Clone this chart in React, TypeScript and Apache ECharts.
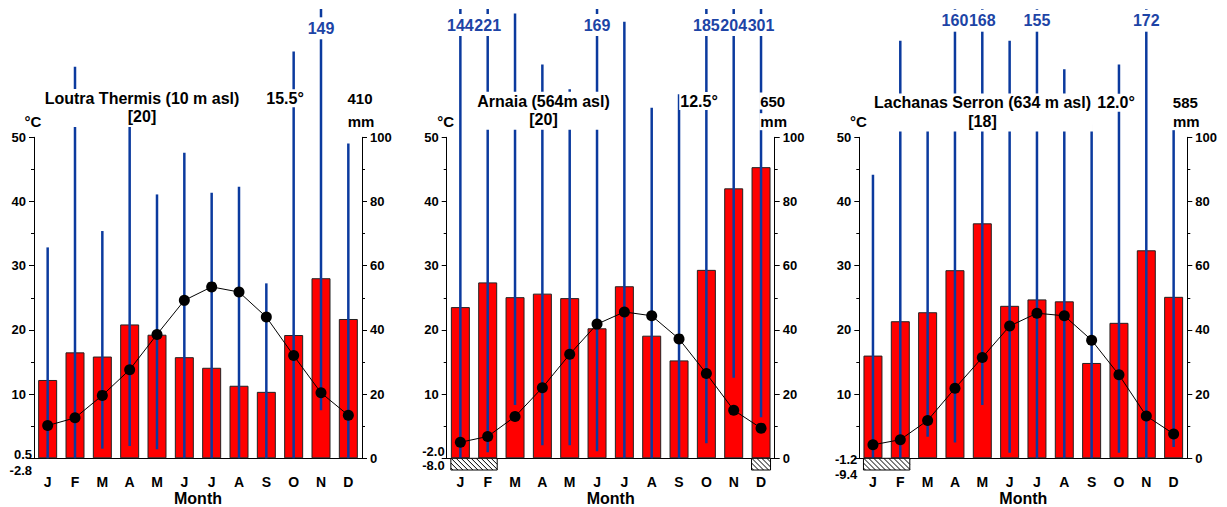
import React, { useEffect, useRef } from "react";
import * as echarts from "echarts";

const FONT = '"Liberation Sans", Arial, Helvetica, sans-serif';

const MONTHS = ["J", "F", "M", "A", "M", "J", "J", "A", "S", "O", "N", "D"];

// Panel 1: Loutra Thermis
const precip1 = [24.4, 33.0, 31.7, 41.7, 38.5, 31.5, 28.2, 22.6, 20.7, 38.4, 56.1, 43.4];
const temp1 = [5.1, 6.3, 9.8, 13.8, 19.3, 24.6, 26.7, 25.9, 22.0, 16.0, 10.2, 6.7];
const low1 = [0, 0, 3.0, 3.8, 2.8, 0, 0, 0, 0, 0, 15.0, 0];
const high1 = [65.7, 122, 70.8, 112, 82.2, 95.2, 82.7, 84.6, 54.5, 126.7, 149, 98.1];
const frost1: number[][] = [];

// Panel 2: Arnaia
const precip2 = [47.1, 54.8, 50.2, 51.3, 49.9, 40.5, 53.6, 38.2, 30.5, 58.7, 84.1, 90.7];
const temp2 = [2.5, 3.4, 6.5, 11.0, 16.2, 20.9, 22.8, 22.2, 18.6, 13.2, 7.5, 4.7];
const low2 = [0, 1.9, 16.6, 4.1, 4.1, 2.2, 0, 0, 0, 4.7, 25.1, 12.8];
const high2 = [144, 221, 138.6, 122.7, 115, 169, 136, 109.2, 113.4, 185, 204, 301];
const frost2 = [[0, 1], [11, 11]];

// Panel 3: Lachanas Serron
const precip3 = [32.0, 42.7, 45.5, 58.6, 73.2, 47.5, 49.5, 48.9, 29.7, 42.2, 64.8, 50.3];
const temp3 = [2.1, 2.9, 5.9, 10.9, 15.7, 20.6, 22.6, 22.2, 18.4, 13.0, 6.6, 3.8];
const low3 = [0, 0, 6.7, 4.9, 16.6, 1.7, 0, 0, 0, 1.7, 0, 3.5];
const high3 = [88.3, 130.1, 104, 160, 168, 130.1, 155, 121.2, 104, 122.7, 172, 106];
const frost3 = [[0, 1]];

const titles = ["Loutra Thermis (10 m asl)", "Arnaia (564m asl)", "Lachanas Serron (634 m asl)"];
const years = ["[20]", "[20]", "[18]"];
const meanTemps = ["15.5°", "12.5°", "12.0°"];
const totals = ["410", "650", "585"];
const lowLabels = [["0.5", "-2.8"], ["-2.0", "-8.0"], ["-1.2", "-9.4"]];

const CAP = 140; // mm beyond which a range line is cut and its value written

// layout
const GRID_LEFT = [34, 446.7, 859.3];
const GRID_W = 328;
const GRID_TOP = 137.3;
const GRID_H = 321;
const BAR_W = 19;
const HATCH_H = 11.7;
const TITLE_X = [142, 543.5, 982.5];
const TITLE_Y = [98.3, 101, 102.7];
const MEAN_X = [285, 699, 1116];
const CLIP_LABEL_Y = [28.3, 25, 20.7];
const LOW_LABEL_Y = [[454.3, 470], [451.5, 465], [459, 474]];

const BLUE = "#0b3a9e";
const BLUE_TEXT = "#1d44a6";

const panels = [
  { precip: precip1, temp: temp1, low: low1, high: high1, frost: frost1 },
  { precip: precip2, temp: temp2, low: low2, high: high2, frost: frost2 },
  { precip: precip3, temp: temp3, low: low3, high: high3, frost: frost3 },
];

function buildOption() {
  const grid: any[] = [];
  const xAxis: any[] = [];
  const yAxis: any[] = [];
  const series: any[] = [];
  const graphic: any[] = [];

  panels.forEach((p, k) => {
    grid.push({ left: GRID_LEFT[k], top: GRID_TOP, width: GRID_W, height: GRID_H, outerBoundsMode: "none" });
    xAxis.push({
      type: "category",
      gridIndex: k,
      data: MONTHS,
      boundaryGap: true,
      axisLine: { show: true, lineStyle: { color: "#000", width: 1 } },
      axisTick: { show: false },
      axisLabel: { color: "#000", fontWeight: "bold", fontSize: 14, fontFamily: FONT, margin: 17 },
      splitLine: { show: false },
    });
    const common = {
      type: "value",
      gridIndex: k,
      axisLine: { show: true, lineStyle: { color: "#000", width: 1 } },
      axisTick: { show: true, length: 5, lineStyle: { color: "#000" } },
      minorTick: { show: true, splitNumber: 2, length: 3, lineStyle: { color: "#000" } },
      splitLine: { show: false },
      minorSplitLine: { show: false },
    };
    yAxis.push({
      ...common,
      position: "left",
      min: 0,
      max: 50,
      interval: 10,
      axisLabel: {
        color: "#000",
        fontWeight: "bold",
        fontSize: 13,
        fontFamily: FONT,
        margin: 8,
        formatter: (v: number) => (v === 0 ? "" : String(v)),
      },
    });
    yAxis.push({
      ...common,
      position: "right",
      min: 0,
      max: 100,
      interval: 20,
      axisLabel: { color: "#000", fontWeight: "bold", fontSize: 13, fontFamily: FONT, margin: 8 },
    });

    const tIdx = 2 * k;
    const pIdx = 2 * k + 1;

    series.push({
      type: "bar",
      xAxisIndex: k,
      yAxisIndex: pIdx,
      data: p.precip,
      barWidth: BAR_W,
      itemStyle: { color: "#ff0000", borderColor: "#222", borderWidth: 1 },
      z: 2,
    });

    const labelY = CLIP_LABEL_Y[k];
    series.push({
      type: "custom",
      xAxisIndex: k,
      yAxisIndex: pIdx,
      clip: false,
      z: 3,
      data: p.low.map((l, i) => [i, l, p.high[i]]),
      encode: { x: 0, y: [1, 2] },
      renderItem: (params: any, api: any) => {
        const i = api.value(0);
        const lo = api.value(1);
        const hi = api.value(2);
        const a = api.coord([i, lo]);
        const b = api.coord([i, Math.min(hi, CAP)]);
        const children: any[] = [
          {
            type: "line",
            shape: { x1: a[0], y1: a[1], x2: b[0], y2: b[1] },
            style: { stroke: BLUE, lineWidth: 2.5 },
          },
        ];
        if (hi > CAP) {
          children.push({
            type: "text",
            x: a[0],
            y: labelY,
            z2: 10,
            style: {
              text: String(hi),
              fill: BLUE_TEXT,
              font: `bold 16px ${FONT}`,
              align: "center",
              verticalAlign: "middle",
              backgroundColor: "#fff",
              padding: [3, 0, 3, 0],
            },
          });
        }
        return { type: "group", children };
      },
    });

    if (p.frost.length) {
      series.push({
        type: "custom",
        xAxisIndex: k,
        yAxisIndex: pIdx,
        clip: false,
        z: 4,
        data: p.frost,
        renderItem: (params: any, api: any) => {
          const s = api.coord([api.value(0), 0]);
          const e = api.coord([api.value(1), 0]);
          const x0 = s[0] - BAR_W / 2;
          const x1 = e[0] + BAR_W / 2;
          const y0 = s[1];
          const y1 = y0 + HATCH_H;
          const h = y1 - y0;
          const children: any[] = [
            {
              type: "rect",
              shape: { x: x0, y: y0, width: x1 - x0, height: h },
              style: { fill: "#fff", stroke: "#000", lineWidth: 1 },
            },
          ];
          for (let a = x0 - h + 2; a < x1; a += 5) {
            let xs = a, ys = y0, xe = a + h, ye = y1;
            if (xs < x0) { ys = y0 + (x0 - xs); xs = x0; }
            if (xe > x1) { ye = y1 - (xe - x1); xe = x1; }
            if (xe > xs) {
              children.push({
                type: "line",
                shape: { x1: xs, y1: ys, x2: xe, y2: ye },
                style: { stroke: "#000", lineWidth: 1 },
              });
            }
          }
          return { type: "group", children };
        },
      });
    }

    series.push({
      type: "line",
      xAxisIndex: k,
      yAxisIndex: tIdx,
      data: p.temp,
      symbol: "circle",
      symbolSize: 11,
      itemStyle: { color: "#000" },
      lineStyle: { color: "#000", width: 1 },
      z: 5,
    });

    const axL = GRID_LEFT[k];
    const axR = GRID_LEFT[k] + GRID_W;
    const ty = TITLE_Y[k];
    const txt = (text: string, x: number, y: number, size: number, align = "center", bg = true) => ({
      type: "text",
      x,
      y,
      z: 100,
      style: {
        text,
        fill: "#000",
        font: `bold ${size}px ${FONT}`,
        align,
        verticalAlign: "middle",
        backgroundColor: bg ? "#fff" : "transparent",
        padding: bg ? [1, 1, 1, 1] : 0,
      },
    });
    graphic.push({
      type: "text",
      x: TITLE_X[k],
      y: ty - 9.25,
      z: 100,
      style: {
        text: titles[k] + "\n" + years[k],
        fill: "#000",
        font: `bold 16px ${FONT}`,
        align: "center",
        verticalAlign: "top",
        lineHeight: 18.5,
        backgroundColor: "#fff",
        padding: [0, 2, 1, 2],
      },
    });
    graphic.push(txt(meanTemps[k], MEAN_X[k], ty, 16));
    graphic.push(txt(totals[k], axR - 2, ty, 15));
    graphic.push(txt("mm", axR - 1, 121.7, 15));
    graphic.push(txt("°C", axL - 1, 121.7, 15));
    graphic.push(txt(lowLabels[k][0], axL - 2, LOW_LABEL_Y[k][0], 13, "right", false));
    graphic.push(txt(lowLabels[k][1], axL - 2, LOW_LABEL_Y[k][1], 13, "right", false));
    graphic.push(txt("Month", axL + GRID_W / 2, 498.3, 16, "center", false));
  });

  return {
    animation: false,
    backgroundColor: "#fff",
    textStyle: { fontFamily: FONT },
    grid,
    xAxis,
    yAxis,
    series,
    graphic,
  };
}

export default function App() {
  const ref = useRef<HTMLDivElement>(null);
  useEffect(() => {
    if (!ref.current) return;
    const chart = echarts.init(ref.current, undefined, { renderer: "svg" });
    chart.setOption(buildOption() as any);
    return () => chart.dispose();
  }, []);
  return (
    <div
      ref={ref}
      style={{ position: "absolute", left: 0, top: 0, width: 1227, height: 507, background: "#fff" }}
    />
  );
}
